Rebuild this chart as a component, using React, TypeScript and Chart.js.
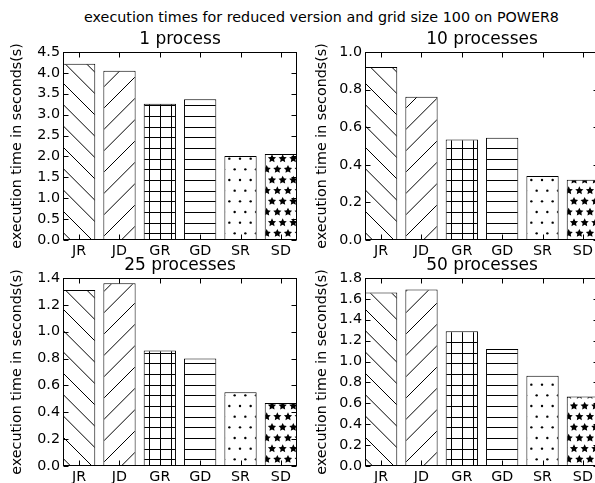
import React, { useEffect, useRef } from 'react';
import { Chart, registerables } from 'chart.js';
Chart.register(...registerables);

const mainTitle = 'execution times for reduced version and grid size 100 on POWER8';
const yAxisLabel = 'execution time in seconds(s)';
const categories = ['JR', 'JD', 'GR', 'GD', 'SR', 'SD'];
const hatches = ['\\', '/', '+', '-', '.', '*'];
const panelTitles = ['1 process', '10 processes', '25 processes', '50 processes'];
const times1 = [4.22, 4.05, 3.26, 3.37, 2.01, 2.06];
const times10 = [0.92, 0.762, 0.534, 0.544, 0.34, 0.321];
const times25 = [1.31, 1.36, 0.86, 0.80, 0.55, 0.47];
const times50 = [1.66, 1.69, 1.29, 1.12, 0.865, 0.665];
const yMaxes = [4.5, 1.0, 1.4, 1.8];
const ySteps = [0.5, 0.2, 0.2, 0.2];
const seriesList = [times1, times10, times25, times50];

const FONT = '"DejaVu Sans", "Bitstream Vera Sans", sans-serif';
const U = 64;

function makePattern(h: string): CanvasPattern | string {
  const c = document.createElement('canvas');
  c.width = U; c.height = U;
  const g = c.getContext('2d')!;
  g.fillStyle = '#fff';
  g.fillRect(0, 0, U, U);
  g.strokeStyle = '#000';
  g.fillStyle = '#000';
  g.lineWidth = 1;
  const n = 6;
  const step = U / n;
  if (h === '-' || h === '+') {
    g.beginPath();
    for (let k = 0; k < n; k++) {
      const y = Math.round(k * step) + 0.5;
      g.moveTo(0, y); g.lineTo(U, y);
    }
    g.stroke();
  }
  if (h === '+') {
    g.beginPath();
    for (let k = 0; k < n; k++) {
      const x = Math.round(k * step) + 0.5;
      g.moveTo(x, 0); g.lineTo(x, U);
    }
    g.stroke();
  }
  if (h === '\\' || h === '/') {
    const d = (2 * U) / n;
    g.beginPath();
    for (let i = -6; i <= 9; i++) {
      const c0 = i * d;
      if (h === '\\') {
        g.moveTo(-U, -U + c0); g.lineTo(2 * U, 2 * U + c0);
      } else {
        g.moveTo(-U, U + c0); g.lineTo(2 * U, -2 * U + c0);
      }
    }
    g.stroke();
  }
  if (h === '.' || h === '*') {
    const r = h === '.' ? 1.2 : 4.3;
    const drawShape = (x: number, y: number) => {
      if (h === '.') {
        g.beginPath(); g.arc(x, y, r, 0, Math.PI * 2); g.fill();
      } else {
        g.beginPath();
        for (let k = 0; k < 10; k++) {
          const rr = k % 2 === 0 ? r : r * 0.5;
          const a = -Math.PI / 2 + (k * Math.PI) / 5;
          const px = x + rr * Math.cos(a), py = y + rr * Math.sin(a);
          if (k === 0) g.moveTo(px, py); else g.lineTo(px, py);
        }
        g.closePath(); g.fill();
      }
    };
    for (let row = 0; row <= n; row++) {
      const y = row * step;
      if (row % 2 === 0) {
        for (let col = 0; col <= n; col++) drawShape(col * step, y);
      } else {
        for (let col = 0; col < n; col++) drawShape(col * step + step / 2, y);
      }
    }
  }
  const p = g.createPattern(c, 'repeat');
  return p || '#fff';
}

const framePlugin = {
  id: 'frame',
  afterDraw(chart: any, _args: any, opts: any) {
    const { ctx, chartArea } = chart;
    const { left, right, top, bottom } = chartArea;
    const xs = chart.scales.x, ys = chart.scales.y;
    ctx.save();
    ctx.strokeStyle = '#000';
    ctx.lineWidth = 1;
    const l = Math.round(left) + 0.5, r = Math.round(right) - 0.5;
    const t = Math.round(top) + 0.5, b = Math.round(bottom) - 0.5;
    ctx.beginPath();
    ys.ticks.forEach((tk: any) => {
      const y = Math.round(ys.getPixelForValue(tk.value)) + 0.5;
      ctx.moveTo(l, y); ctx.lineTo(l + 5, y);
      ctx.moveTo(r, y); ctx.lineTo(r - 5, y);
    });
    xs.ticks.forEach((tk: any) => {
      const x = Math.round(xs.getPixelForValue(tk.value)) + 0.5;
      ctx.moveTo(x, t); ctx.lineTo(x, t + 5);
      ctx.moveTo(x, b); ctx.lineTo(x, b - 5);
    });
    ctx.stroke();
    ctx.strokeRect(l, t, r - l, b - t);
    ctx.fillStyle = '#000';
    ctx.font = `14.3px ${FONT}`;
    ctx.translate(opts.labelX, (top + bottom) / 2);
    ctx.rotate(-Math.PI / 2);
    ctx.textAlign = 'center';
    ctx.textBaseline = 'middle';
    ctx.fillText(opts.text, 0, 0);
    ctx.restore();
  },
};

const panels = [
  { L: 63, T: 52, R: 297, B: 240, labelX: 17 },
  { L: 365, T: 52, R: 599, B: 240, labelX: 20 },
  { L: 63, T: 278, R: 297, B: 466, labelX: 17 },
  { L: 365, T: 278, R: 599, B: 466, labelX: 20 },
];
const LEFT_SPACE = 63;
const TOP_SPACE = 32;
const BOTTOM_SPACE = 24;
const RIGHT_PAD = 4;

export default function App() {
  const refs = [useRef<HTMLCanvasElement>(null), useRef<HTMLCanvasElement>(null), useRef<HTMLCanvasElement>(null), useRef<HTMLCanvasElement>(null)];

  useEffect(() => {
    const patterns = hatches.map(makePattern);
    const charts: Chart[] = [];
    panels.forEach((p, pi) => {
      const canvas = refs[pi].current;
      if (!canvas) return;
      const values = seriesList[pi];
      const chart = new Chart(canvas, {
        type: 'bar',
        data: {
          datasets: [
            {
              data: values.map((v, i) => ({ x: i + 0.4, y: v })),
              backgroundColor: patterns as any,
              borderColor: '#000',
              borderWidth: 1,
              barPercentage: 0.8,
              categoryPercentage: 1,
            } as any,
          ],
        },
        options: {
          responsive: false,
          maintainAspectRatio: false,
          animation: false,
          events: [],
          layout: { padding: { left: 0, right: RIGHT_PAD, top: 0, bottom: 0 } },
          plugins: {
            legend: { display: false },
            tooltip: { enabled: false },
            title: {
              display: true,
              text: panelTitles[pi],
              color: '#000',
              fullSize: false,
              font: { family: FONT, size: 17, weight: 'normal' as any },
              padding: { top: 9.8, bottom: 1.8 },
            },
            frame: { text: yAxisLabel, labelX: p.labelX },
          } as any,
          scales: {
            x: {
              type: 'linear',
              offset: false,
              min: 0,
              max: 5.8,
              grid: { display: false, drawTicks: false, offset: false },
              border: { display: false },
              afterBuildTicks: (s: any) => {
                s.ticks = categories.map((_, i) => ({ value: i + 0.4 }));
              },
              afterFit: (s: any) => { s.height = BOTTOM_SPACE; },
              ticks: {
                autoSkip: false,
                maxRotation: 0,
                minRotation: 0,
                padding: 3,
                color: '#000',
                font: { family: FONT, size: 14.3 },
                callback: (v: any) => categories[Math.round(Number(v) - 0.4)],
              },
            },
            y: {
              min: 0,
              max: yMaxes[pi],
              grid: { display: false, drawTicks: false },
              border: { display: false },
              afterFit: (s: any) => { s.width = LEFT_SPACE; },
              ticks: {
                stepSize: ySteps[pi],
                padding: 3,
                color: '#000',
                font: { family: FONT, size: 14.3 },
                callback: (v: any) => Number(v).toFixed(1),
              },
            },
          },
        },
        plugins: [framePlugin as any],
      });
      charts.push(chart);
    });
    return () => charts.forEach((c) => c.destroy());
  }, []);

  return (
    <div style={{ position: 'absolute', left: 0, top: 0, width: 595, height: 483, overflow: 'hidden', background: '#fff' }}>
      <div
        style={{
          position: 'absolute',
          left: 321.5,
          top: 9,
          transform: 'translateX(-50%)',
          whiteSpace: 'nowrap',
          fontFamily: FONT,
          fontSize: '14.3px',
          lineHeight: '16px',
          color: '#000',
        }}
      >
        {mainTitle}
      </div>
      {panels.map((p, i) => (
        <canvas
          key={i}
          ref={refs[i]}
          width={p.R - p.L + LEFT_SPACE + RIGHT_PAD}
          height={p.B - p.T + TOP_SPACE + BOTTOM_SPACE}
          style={{ position: 'absolute', left: p.L - LEFT_SPACE, top: p.T - TOP_SPACE }}
        />
      ))}
    </div>
  );
}
